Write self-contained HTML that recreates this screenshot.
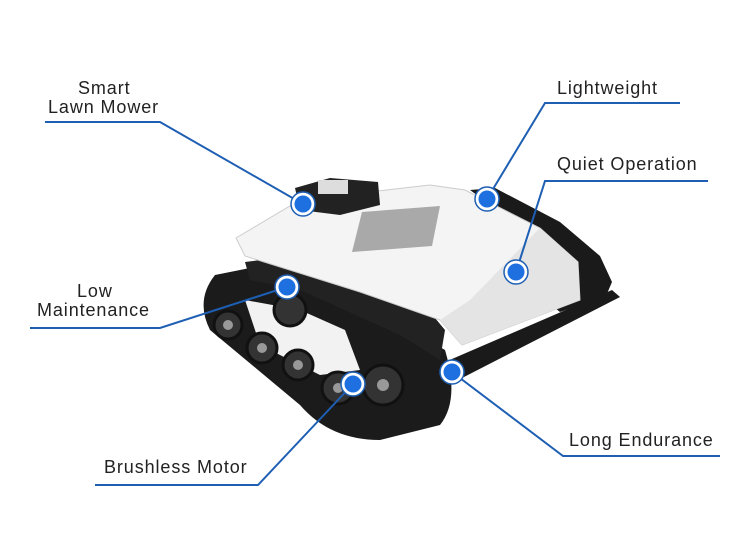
<!DOCTYPE html>
<html><head><meta charset="utf-8"><style>
html,body{margin:0;padding:0;background:#fff;}
body{width:750px;height:541px;overflow:hidden;position:relative;font-family:"Liberation Sans",sans-serif;}
svg{position:absolute;left:0;top:0;}
.t{position:absolute;font-size:18px;letter-spacing:0.9px;color:#222;line-height:20px;white-space:nowrap;}
</style></head><body>
<svg width="750" height="541" viewBox="0 0 750 541">
<!-- right track -->
<path d="M470 190 L495 188 L560 222 L600 256 L612 282 L606 296 L560 312 L545 300 L578 282 L565 250 L500 212 Z" fill="#1a1a1a"/>
<path d="M445 362 L612 290 L620 297 L462 378 Z" fill="#1a1a1a"/>
<!-- left track -->
<path d="M215 275 Q195 300 210 330 L300 405 Q330 440 380 440 L440 425 Q460 400 445 350 L360 300 L280 262 Z" fill="#1b1b1b"/>
<path d="M245 262 L300 255 L420 300 L445 330 L440 360 L400 335 L300 290 L250 280 Z" fill="#222"/>
<!-- white body -->
<path d="M236 238 L300 200 L430 185 L465 190 L540 228 L578 262 L580 300 L462 345 L440 320 L360 292 L245 256 Z" fill="#f4f4f4" stroke="#ccc" stroke-width="1"/>
<path d="M440 320 L462 345 L580 300 L578 262 L540 228 L470 300 Z" fill="#e4e4e4"/>
<path d="M362 212 L440 206 L432 246 L352 252 Z" fill="#a9a9a9"/>
<!-- side plate -->
<path d="M245 300 L300 310 L345 330 L360 370 L320 375 L260 345 Z" fill="#f2f2f2"/>
<!-- sensor box -->
<path d="M295 188 L330 178 L378 182 L380 205 L340 215 L300 210 Z" fill="#222"/>
<rect x="318" y="180" width="30" height="14" fill="#ddd"/>
<!-- wheels -->
<g fill="#333" stroke="#111" stroke-width="3">
<circle cx="228" cy="325" r="14"/><circle cx="262" cy="348" r="15"/><circle cx="298" cy="365" r="15"/><circle cx="338" cy="388" r="16"/><circle cx="383" cy="385" r="20"/><circle cx="290" cy="310" r="16"/>
</g>
<g fill="#999"><circle cx="228" cy="325" r="5"/><circle cx="262" cy="348" r="5"/><circle cx="298" cy="365" r="5"/><circle cx="338" cy="388" r="5"/><circle cx="383" cy="385" r="6"/></g>
<!-- lines -->
<g stroke="#1e5fb4" stroke-width="2" fill="none">
<polyline points="45,122 160,122 303,204"/>
<polyline points="680,103 545,103 487,199"/>
<polyline points="708,181 545,181 516,272"/>
<polyline points="30,328 160,328 287,287"/>
<polyline points="95,485 258,485 353,384"/>
<polyline points="720,456 563,456 452,372"/>
</g>
<g fill="#1e6fe0" stroke="#fff" stroke-width="3">
<circle cx="303" cy="204" r="10"/><circle cx="487" cy="199" r="10"/><circle cx="516" cy="272" r="10"/>
<circle cx="287" cy="287" r="10"/><circle cx="353" cy="384" r="10"/><circle cx="452" cy="372" r="10"/>
</g>
<g fill="none" stroke="#1e5fb4" stroke-width="1.5">
<circle cx="303" cy="204" r="12"/><circle cx="487" cy="199" r="12"/><circle cx="516" cy="272" r="12"/>
<circle cx="287" cy="287" r="12"/><circle cx="353" cy="384" r="12"/><circle cx="452" cy="372" r="12"/>
</g>
</svg>
<div class="t" style="left:78px;top:78px">Smart</div>
<div class="t" style="left:48px;top:97px">Lawn Mower</div>
<div class="t" style="left:557px;top:78px">Lightweight</div>
<div class="t" style="left:557px;top:154px">Quiet Operation</div>
<div class="t" style="left:77px;top:281px">Low</div>
<div class="t" style="left:37px;top:300px">Maintenance</div>
<div class="t" style="left:104px;top:457px">Brushless Motor</div>
<div class="t" style="left:569px;top:430px">Long Endurance</div>
</body></html>
